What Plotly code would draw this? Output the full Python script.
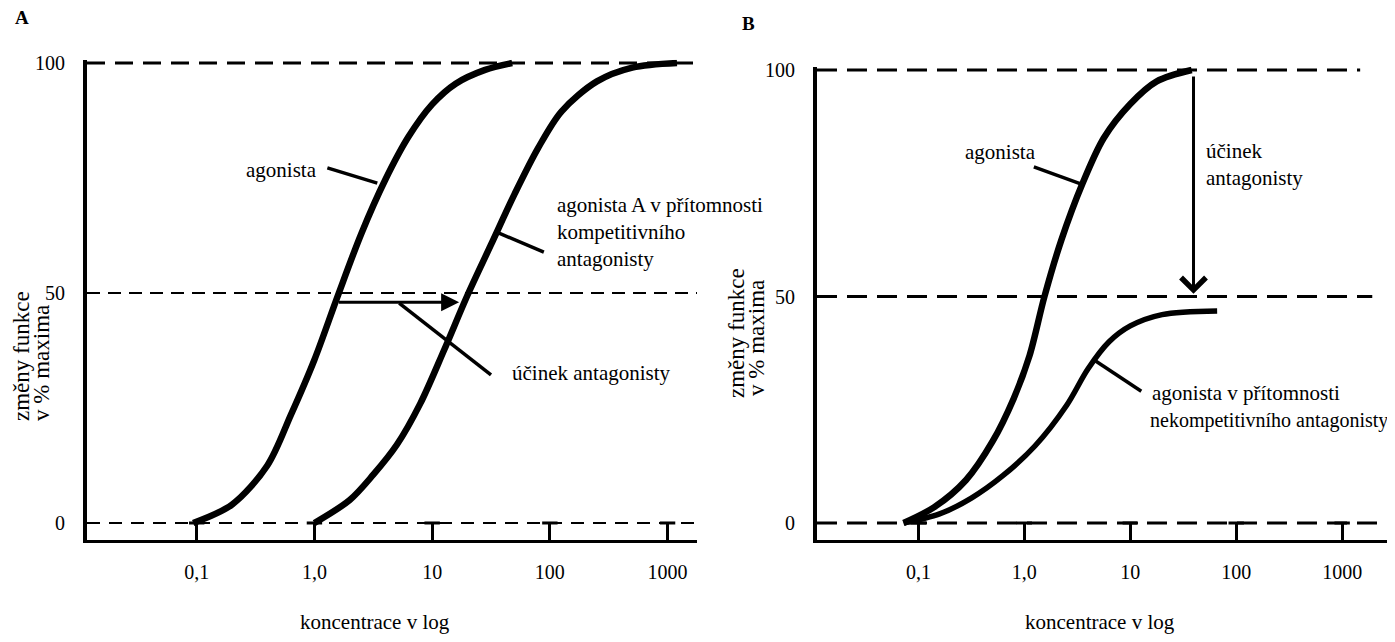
import plotly.graph_objects as go

# page is 1395x642; the browser body adds an 8px margin, so the figure is offset by 8px
OFF = 8
W, H = 1395 - OFF, 642 - 2 * OFF

# ---------------- data ----------------
tick_vals = [0.1, 1, 10, 100, 1000]
tick_text = ["0,1", "1,0", "10", "100", "1000"]
y_tick_vals = [0, 50, 100]
ref_levels = [0, 50, 100]

# Panel A: agonist and agonist + competitive antagonist (log10 concentration, % of max)
a_agonist_logx = [-1.03, -0.7, -0.4, -0.2, 0.0, 0.2, 0.4, 0.6, 0.8, 1.0, 1.2, 1.45, 1.68]
a_agonist_y = [0, 4, 12.5, 23.5, 35.5, 49.5, 63, 74.5, 84, 91, 95.5, 98.5, 100]
a_comp_logx = [0.0, 0.3, 0.5, 0.7, 0.9, 1.1, 1.3, 1.5, 1.7, 1.9, 2.1, 2.4, 2.7, 3.08]
a_comp_y = [0, 5, 10.5, 17, 26, 37.5, 49.5, 60.5, 71.5, 81.5, 89.5, 96, 99, 100]

# Panel B: agonist and agonist + non-competitive antagonist
b_agonist_logx = [-1.14, -0.85, -0.55, -0.3, -0.1, 0.05, 0.19, 0.35, 0.55, 0.75, 1.0, 1.25, 1.58]
b_agonist_y = [0, 3.5, 9.5, 18, 27.5, 37, 50, 62.5, 75, 85, 92.5, 97.5, 100]
b_noncomp_logx = [-1.14, -0.8, -0.5, -0.2, 0.1, 0.4, 0.6, 0.8, 1.0, 1.3, 1.82]
b_noncomp_y = [0, 2, 5.5, 10.5, 17, 26, 34, 40, 43.5, 46, 46.8]

# pointer lines (log10 x, y)
a_ptr_agonist = ([0.11, 0.534], [77.2, 73.9])
a_ptr_comp = ([1.568, 1.949], [63, 58.9])
a_ptr_effect = ([0.72, 1.50], [47.8, 32.2])
a_arrow = ([0.195, 1.229], [48.0, 48.0])
b_ptr_agonist = ([0.09, 0.564], [78.6, 74.6])
b_ptr_noncomp = ([0.659, 1.104], [36.0, 29.1])
b_arrow = ([1.597, 1.597], [98.9, 50.6])

FONT = "Liberation Serif"
A_TOP, B_TOP = 100.7, 100.7  # y range tops (a little headroom so the 100 line is not clipped)


def px(x):
    return (x - OFF) / W


def py(y):
    return 1 - (y - OFF) / H


def lin(logs):
    return [10 ** v for v in logs]


fig = go.Figure()

curve_style = dict(mode="lines", line=dict(color="black", width=6.5, shape="spline", smoothing=0.9),
                   hoverinfo="skip", showlegend=False)
fig.add_trace(go.Scatter(x=lin(a_agonist_logx), y=a_agonist_y, xaxis="x", yaxis="y", **curve_style))
fig.add_trace(go.Scatter(x=lin(a_comp_logx), y=a_comp_y, xaxis="x", yaxis="y", **curve_style))
fig.add_trace(go.Scatter(x=lin(b_agonist_logx), y=b_agonist_y, xaxis="x2", yaxis="y2", **curve_style))
ncs = dict(curve_style)
ncs["line"] = dict(color="black", width=5.5, shape="spline", smoothing=0.9)
fig.add_trace(go.Scatter(x=lin(b_noncomp_logx), y=b_noncomp_y, xaxis="x2", yaxis="y2", **ncs))

ptr_style = dict(mode="lines", line=dict(color="black", width=3.5), hoverinfo="skip", showlegend=False)
for (lx, ly), xa, ya in [(a_ptr_agonist, "x", "y"), (a_ptr_comp, "x", "y"), (a_ptr_effect, "x", "y"),
                         (b_ptr_agonist, "x2", "y2"), (b_ptr_noncomp, "x2", "y2")]:
    fig.add_trace(go.Scatter(x=lin(lx), y=ly, xaxis=xa, yaxis=ya, **ptr_style))

# T-shaped tick crossbars
for xa, ya in [("x", "y"), ("x2", "y2")]:
    fig.add_trace(go.Scatter(x=tick_vals, y=[0] * len(tick_vals), xaxis=xa, yaxis=ya, mode="markers",
                             marker=dict(symbol="line-ew", size=11, line=dict(color="black", width=3)),
                             hoverinfo="skip", showlegend=False))

# dashed reference lines
a_dash = {100: dict(width=3, dash="18px,10px"), 50: dict(width=2.2, dash="13px,8px"),
          0: dict(width=2.2, dash="13px,9px")}
for lvl in ref_levels:
    fig.add_shape(type="line", xref="x domain", yref="y", x0=0, x1=1, y0=lvl, y1=lvl,
                  line=dict(color="black", **a_dash[lvl]))
b_end = {100: 0.943, 50: 0.964, 0: 1.0}
for lvl in ref_levels:
    fig.add_shape(type="line", xref="x2 domain", yref="y2", x0=0, x1=b_end[lvl], y0=lvl, y1=lvl,
                  line=dict(color="black", width=3, dash="20px,10px"))

# arrows
fig.add_annotation(x=a_arrow[0][1], y=a_arrow[1][1], ax=a_arrow[0][0], ay=a_arrow[1][0],
                   xref="x", yref="y", axref="x", ayref="y", text="", showarrow=True,
                   arrowhead=2, arrowsize=1.2, arrowwidth=3, arrowcolor="black")
fig.add_annotation(x=b_arrow[0][1], y=b_arrow[1][1], ax=b_arrow[0][0], ay=b_arrow[1][0],
                   xref="x2", yref="y2", axref="x2", ayref="y2", text="", showarrow=True,
                   arrowhead=4, arrowsize=1.6, arrowwidth=3, arrowcolor="black")

# text labels (page positions in pixels)
texts = [
    ("<b>A</b>", 22, 18, "center", 19),
    ("<b>B</b>", 748, 23, "center", 19),
    ("agonista", 281, 170, "center", 21),
    ("agonista A v přítomnosti", 555, 205, "left", 21),
    ("kompetitivního", 555, 232, "left", 21),
    ("antagonisty", 555, 259, "left", 21),
    ("účinek antagonisty", 510, 373, "left", 21),
    ("agonista", 1000, 152, "center", 21),
    ("účinek", 1204, 151, "left", 21),
    ("antagonisty", 1204, 178, "left", 21),
    ("agonista v přítomnosti", 1150, 393, "left", 21),
    ("nekompetitivního antagonisty", 1148, 420, "left", 20),
    ("koncentrace v log", 375, 622, "center", 21),
    ("koncentrace v log", 1100, 622, "center", 21),
]
for t, x, y, anc, size in texts:
    fig.add_annotation(x=px(x), y=py(y), xref="paper", yref="paper", text=t, showarrow=False,
                       xanchor=anc, yanchor="middle", font=dict(family=FONT, size=size, color="black"))

# rotated y titles
for t, x, ybot, size in [("změny funkce", 21, 423, 23), ("v % maxima", 41, 423, 23),
                         ("změny funkce", 736, 400, 23), ("v % maxima", 756, 398, 23)]:
    fig.add_annotation(x=px(x), y=py(ybot), xref="paper", yref="paper", text=t, showarrow=False,
                       textangle=-90, xanchor="center", yanchor="bottom",
                       font=dict(family=FONT, size=size, color="black"))

xax_common = dict(type="log", showgrid=False, zeroline=False, showline=True, linecolor="black",
                  linewidth=3, ticks="inside", ticklen=17, tickwidth=3, tickcolor="black",
                  tickvals=tick_vals, ticktext=tick_text, ticklabelstandoff=12, automargin=False,
                  tickfont=dict(family=FONT, size=20, color="black"))
yax_common = dict(showgrid=False, zeroline=False, showline=True, linecolor="black", linewidth=4,
                  ticks="", tickvals=y_tick_vals, ticklabelstandoff=14, automargin=False,
                  tickfont=dict(family=FONT, size=20, color="black"))

a_ppu = (523 - 63) / 100.0   # pixels per % in panel A
b_ppu = (523 - 70) / 100.0
fig.update_layout(
    width=W, height=H, margin=dict(l=0, r=0, t=0, b=0, pad=0, autoexpand=False),
    paper_bgcolor="white", plot_bgcolor="white", showlegend=False, hovermode=False,
    xaxis=dict(domain=[px(87), px(697)], range=[-1.932, 3.25], anchor="y", **xax_common),
    yaxis=dict(domain=[py(540), py(63 - (A_TOP - 100) * a_ppu)], range=[-3.7, A_TOP], anchor="x",
               **yax_common),
    xaxis2=dict(domain=[px(817), px(1393)], range=[-1.957, 3.48], anchor="y2", **xax_common),
    yaxis2=dict(domain=[py(540), py(70 - (B_TOP - 100) * b_ppu)], range=[-3.75, B_TOP], anchor="x2",
                **yax_common),
)

fig.write_html("out.html")
